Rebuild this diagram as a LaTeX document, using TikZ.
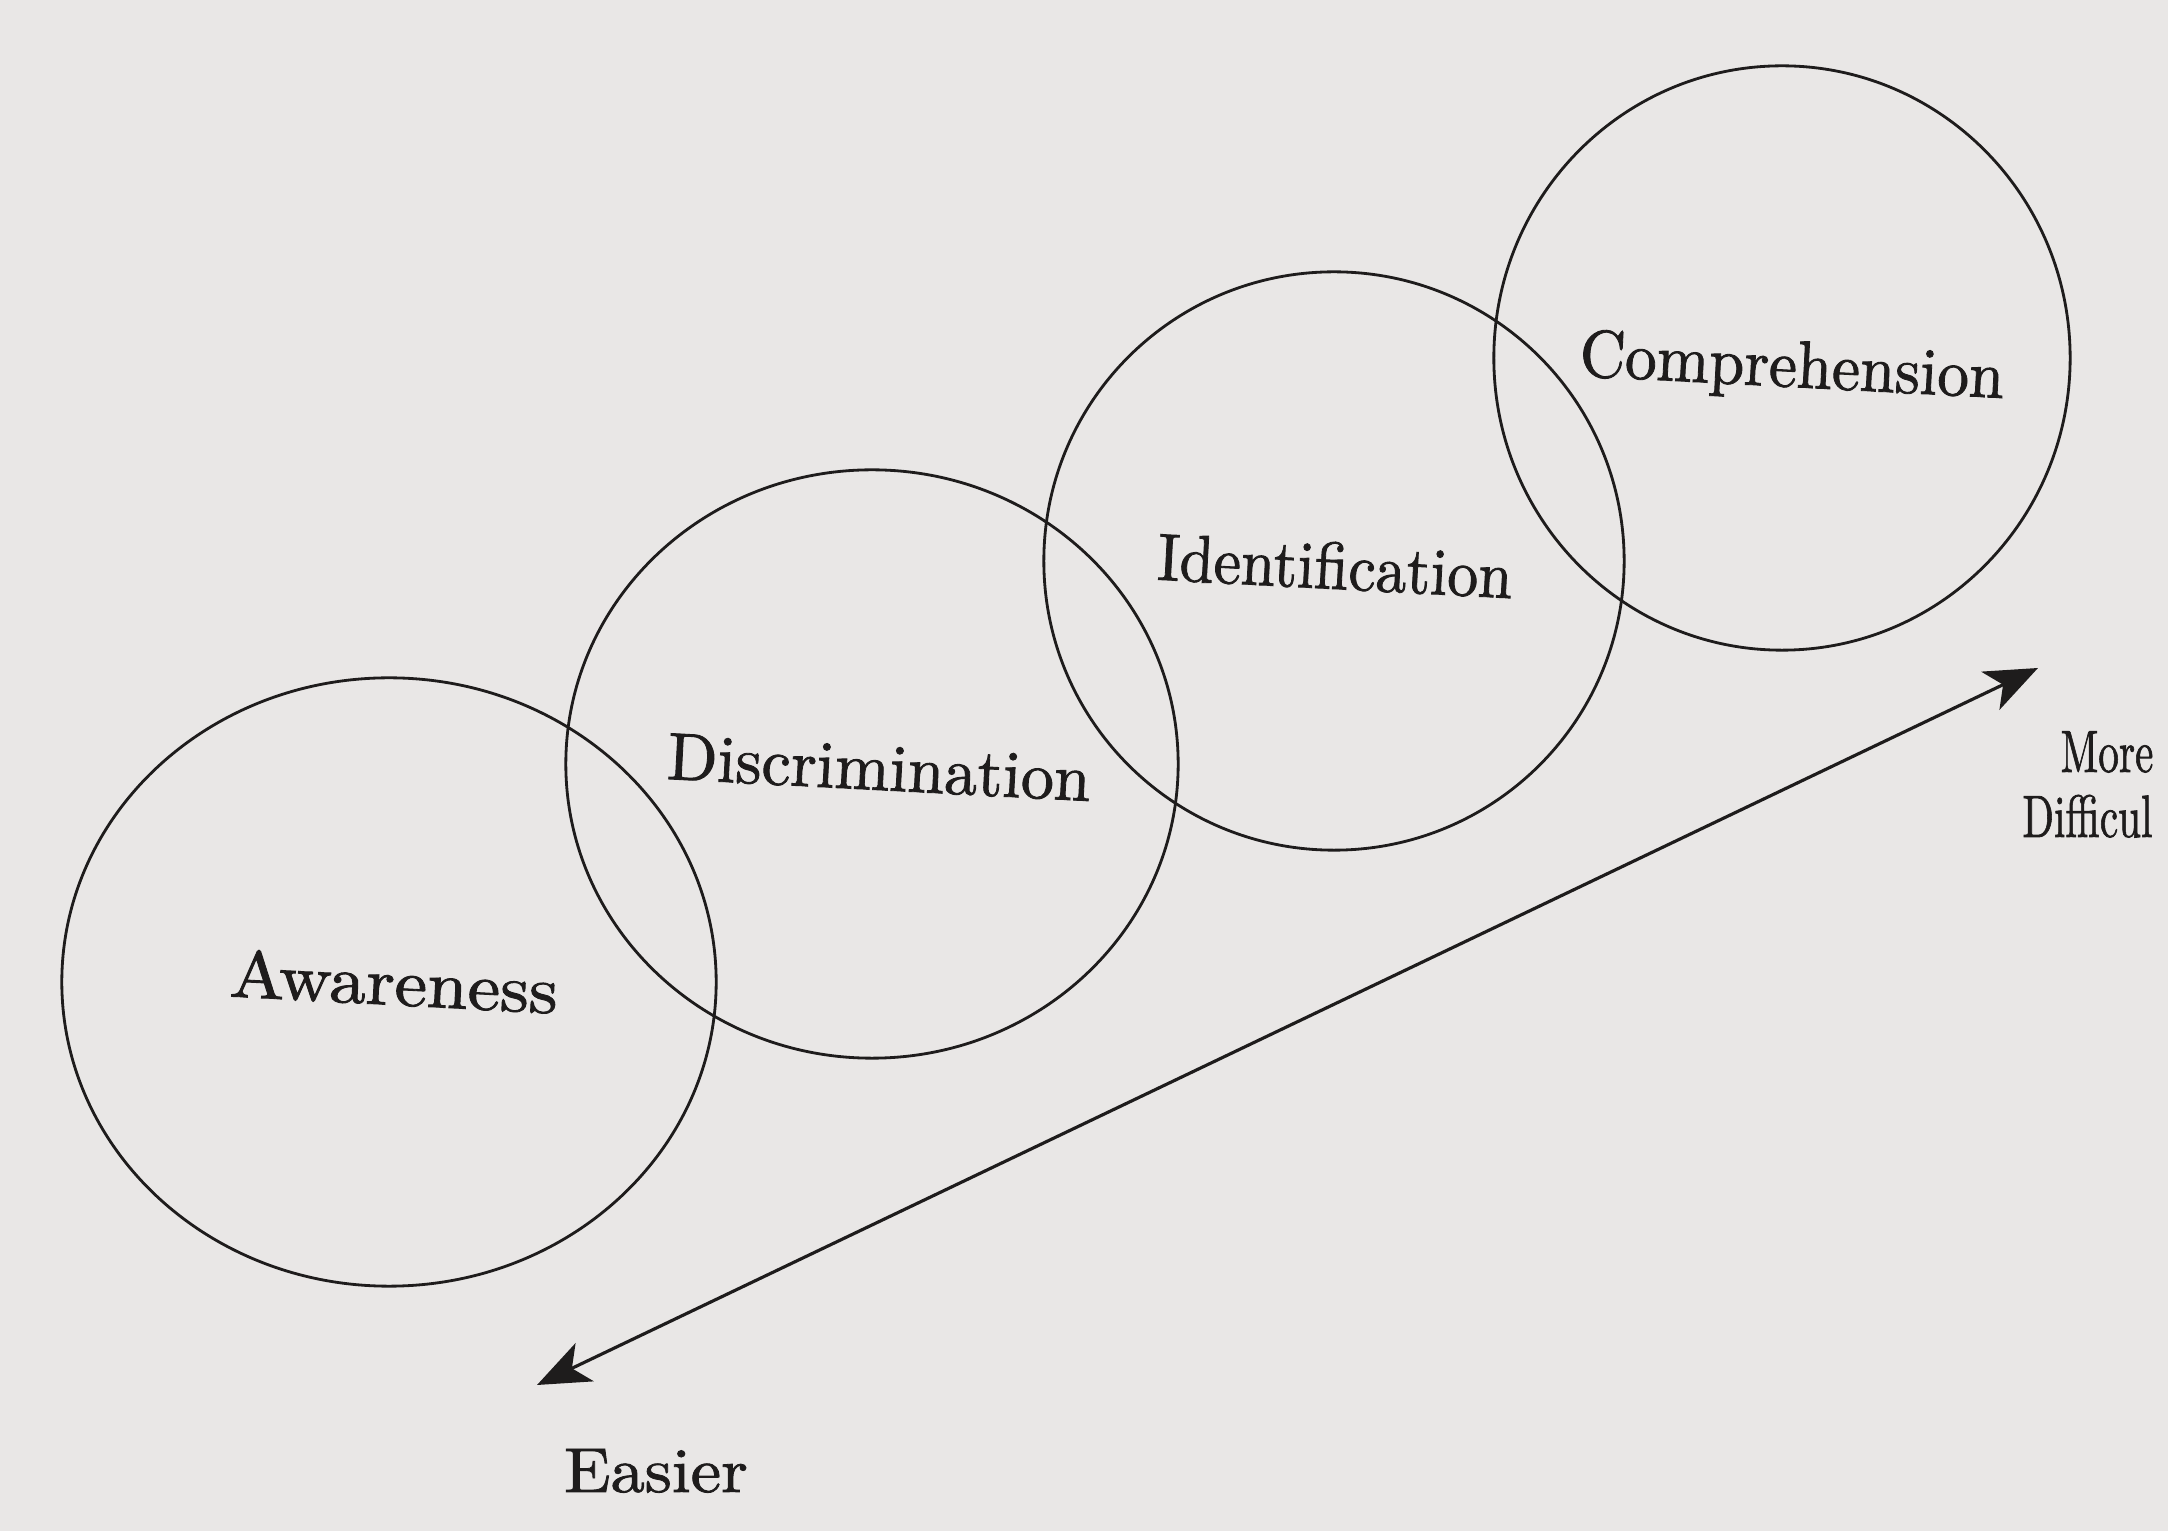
\documentclass[tikz,border=0pt]{standalone}
\usepackage{fontspec}
\newfontfamily\heavy{lmroman10-regular.otf}[FakeBold=1.3]
\usetikzlibrary{shapes.geometric,arrows.meta}
\definecolor{paper}{RGB}{233,231,230}
\definecolor{ink}{RGB}{30,28,28}
\begin{document}
\begin{tikzpicture}[x=0.01cm,y=-0.01cm,
  ring/.style={draw=ink,ellipse,line width=0.8pt,inner sep=0pt},
  lbl/.style={text=ink,anchor=base,rotate=-3,inner sep=0pt,font=\heavy\fontsize{19}{23}\selectfont},
  side/.style={text=ink,anchor=base,inner sep=0pt,font=\heavy\fontsize{17}{20}\selectfont},
  >={Stealth[length=15pt,width=12pt,inset=4pt]}]
\fill[paper] (0,0) rectangle (2168,1531);
\useasboundingbox (0,0) rectangle (2168,1531);
\clip (0,0) rectangle (2168,1531);
\node[ring,minimum width=6.54cm,minimum height=6.08cm] (aw) at (389,982) {};
\node[ring,minimum width=6.12cm,minimum height=5.88cm] (di) at (872,764) {};
\node[ring,minimum width=5.80cm,minimum height=5.78cm] (id) at (1334,561) {};
\node[ring,minimum width=5.76cm,minimum height=5.84cm] (co) at (1782,358) {};
\node[lbl,xscale=1.095] (taw) at (393,1005) {Awareness};
\node[lbl,xscale=0.985] (tdi) at (878,790) {Discrimination};
\node[lbl,xscale=0.92] (tid) at (1334,589) {Identification};
\node[lbl,xscale=0.945] (tco) at (1791,387) {Comprehension};
\coordinate (ea) at (537,1385);
\coordinate (md) at (2038,668);
\draw[ink,line width=0.9pt,<->] (ea) -- (md);
\node[side,xscale=1.08,font=\heavy\fontsize{18}{22}\selectfont] (easier) at (656,1492) {Easier};
\node[side,xscale=0.69,anchor=base west] (more) at (2060,772) {More};
\node[side,xscale=0.69,anchor=base west] (diff) at (2022,837) {Difficul};
\end{tikzpicture}
\end{document}
